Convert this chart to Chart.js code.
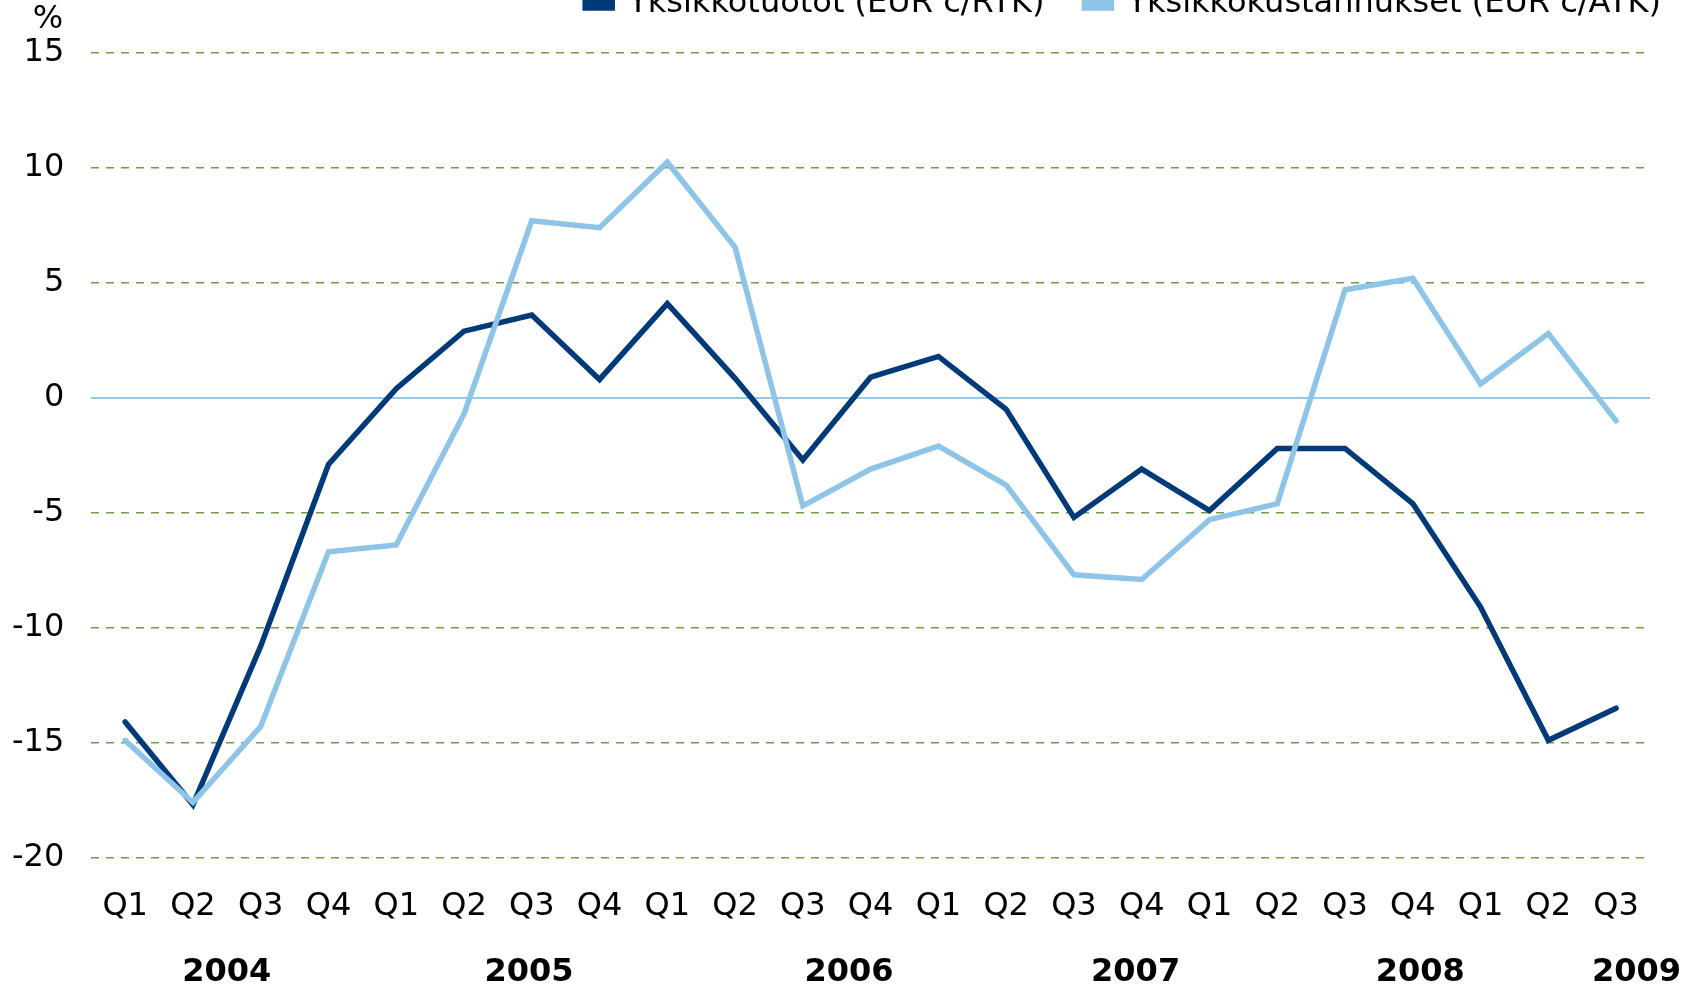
<!DOCTYPE html>
<html>
<head>
<meta charset="utf-8">
<script src="https://cdn.jsdelivr.net/npm/chart.js@4.4.1/dist/chart.umd.min.js"></script>
<style>
  html, body { margin: 0; padding: 0; background: #fff; overflow: hidden; }
  body { width: 1698px; height: 984px; position: relative; }
  /* legend sits partly above the visible area, like in the source image */
  #wrap { position: absolute; left: 0; top: -52px; width: 1698px; height: 1036px; }
</style>
</head>
<body>
<div id="wrap"><canvas id="chart"></canvas></div>
<script>
// ---- data -------------------------------------------------------
const quarters = [
  'Q1', 'Q2', 'Q3', 'Q4',
  'Q1', 'Q2', 'Q3', 'Q4',
  'Q1', 'Q2', 'Q3', 'Q4',
  'Q1', 'Q2', 'Q3', 'Q4',
  'Q1', 'Q2', 'Q3', 'Q4',
  'Q1', 'Q2', 'Q3'
];
const years = ['2004', '2005', '2006', '2007', '2008', '2009'];

// Yksikkötuotot (EUR c/RTK), % change
const unitRevenue = [
  -14.1, -17.7, -10.8, -2.9,
  0.4, 2.9, 3.6, 0.8,
  4.1, 0.85, -2.7, 0.9,
  1.8, -0.5, -5.2, -3.1,
  -4.9, -2.2, -2.2, -4.6,
  -9.1, -14.9, -13.5
];
// Yksikkökustannukset (EUR c/ATK), % change
const unitCost = [
  -14.9, -17.6, -14.3, -6.7,
  -6.4, -0.7, 7.7, 7.4,
  10.25, 6.55, -4.7, -3.1,
  -2.1, -3.8, -7.7, -7.9,
  -5.3, -4.6, 4.7, 5.2,
  0.6, 2.8, -1.0
];
const seriesNames = ['Yksikkötuotot (EUR c/RTK)', 'Yksikkökustannukset (EUR c/ATK)'];

// ---- layout / style ---------------------------------------------
const FONT = "'DejaVu Sans', Verdana, sans-serif";
const DARK = '#003a78';
const LIGHT = '#8dc4e8';
const GRID = '#6f9e45';
const ZERO = '#96c8ea';
// where the year captions sit, in category units
const yearAt = [1.5, 5.96, 10.68, 14.91, 19.11, 22.3];
const SHIFT = 52; // wrapper offset above the page

const legendTweak = {
  id: 'legendTweak',
  beforeInit(chart) {
    const fit = chart.legend.fit;
    chart.legend.fit = function () {
      fit.bind(chart.legend)();
      this.height = 105;
    };
  },
  afterLayout(chart) {
    // legend runs a bit past the plot area on the right
    chart.legend.left += 51;
    chart.legend.right += 51;
  }
};

const extraText = {
  id: 'extraText',
  afterDraw(chart) {
    const ctx = chart.ctx;
    const x = chart.scales.x;
    ctx.save();
    ctx.fillStyle = '#000';
    ctx.textBaseline = 'middle';
    ctx.textAlign = 'center';
    ctx.font = 'bold 32px ' + FONT;
    years.forEach((y, i) => {
      ctx.fillText(y, x.getPixelForValue(yearAt[i]), 973 + SHIFT);
    });
    ctx.font = '32px ' + FONT;
    ctx.fillText('%', 48, 20 + SHIFT);
    ctx.restore();
  }
};

new Chart(document.getElementById('chart'), {
  type: 'line',
  data: {
    labels: quarters,
    datasets: [
      {
        label: seriesNames[0],
        data: unitRevenue,
        borderColor: DARK,
        backgroundColor: DARK,
        borderWidth: 5.5,
        pointRadius: 0,
        tension: 0,
        borderJoinStyle: 'miter',
        borderCapStyle: 'round',
        order: 2
      },
      {
        label: seriesNames[1],
        data: unitCost,
        borderColor: LIGHT,
        backgroundColor: LIGHT,
        borderWidth: 5.5,
        pointRadius: 0,
        tension: 0,
        borderJoinStyle: 'miter',
        borderCapStyle: 'round',
        order: 1
      }
    ]
  },
  options: {
    responsive: true,
    maintainAspectRatio: false,
    animation: false,
    layout: { padding: { left: -15, right: 48, top: 0, bottom: 28 } },
    plugins: {
      legend: {
        position: 'top',
        align: 'end',
        labels: {
          color: '#000',
          font: { family: FONT, size: 32 },
          boxWidth: 27,
          boxHeight: 8,
          padding: 40,
          sort: (a, b) => a.datasetIndex - b.datasetIndex
        }
      },
      tooltip: { enabled: false }
    },
    scales: {
      x: {
        offset: true,
        grid: { display: false, drawTicks: false },
        border: { display: false },
        ticks: {
          color: '#000',
          font: { family: FONT, size: 32 },
          padding: 30,
          maxRotation: 0,
          autoSkip: false
        }
      },
      y: {
        min: -20,
        max: 15,
        grid: {
          drawTicks: false,
          color: ctx => (ctx.tick && ctx.tick.value === 0 ? ZERO : GRID),
          lineWidth: ctx => (ctx.tick && ctx.tick.value === 0 ? 2 : 1.5)
        },
        border: {
          display: false,
          dash: ctx => (ctx.tick && ctx.tick.value === 0 ? [] : [8, 7])
        },
        ticks: {
          stepSize: 5,
          color: '#000',
          font: { family: FONT, size: 32 },
          padding: 27
        }
      }
    }
  },
  plugins: [legendTweak, extraText]
});
</script>
</body>
</html>
